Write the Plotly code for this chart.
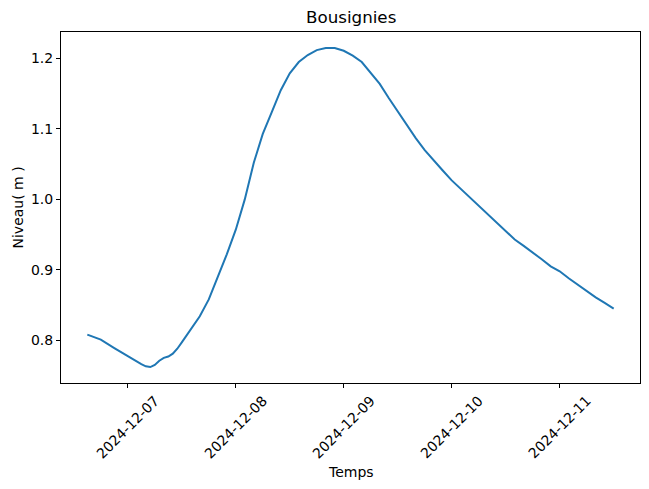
import plotly.graph_objects as go
import pandas as pd

# Hours relative to 2024-12-07 00:00
hours = [-9, -6, -3, 0, 2, 3, 4, 5, 6, 7, 8, 9, 10, 11, 12, 14, 16, 18, 20, 22, 24,
         26, 28, 30, 32, 34, 36, 38, 40, 42, 44, 46, 48, 50, 52, 54, 56, 58, 60, 62,
         64, 66, 68, 70, 72, 74, 76, 78, 80, 82, 84, 86, 88, 90, 92, 94, 96, 98, 100,
         102, 104, 106, 108]
niveau = [0.808, 0.801, 0.789, 0.777, 0.770, 0.766, 0.763, 0.762, 0.765, 0.771, 0.775,
          0.777, 0.781, 0.788, 0.797, 0.815, 0.834, 0.858, 0.890, 0.922, 0.957,
          1.000, 1.052, 1.093, 1.124, 1.155, 1.179, 1.195, 1.205, 1.212, 1.215, 1.215,
          1.211, 1.204, 1.195, 1.180, 1.164, 1.144, 1.125, 1.106, 1.087, 1.070, 1.055,
          1.041, 1.027, 1.015, 1.002, 0.991, 0.978, 0.967, 0.954, 0.943, 0.934, 0.925,
          0.915, 0.905, 0.898, 0.888, 0.879, 0.869, 0.861, 0.853, 0.845]
tick_dates = ["2024-12-07", "2024-12-08", "2024-12-09", "2024-12-10", "2024-12-11"]
y_ticks = [0.8, 0.9, 1.0, 1.1, 1.2]

base = pd.Timestamp("2024-12-07")
temps = [base + pd.Timedelta(hours=h) for h in hours]

# matplotlib-like 5% margins
tmin, tmax = min(temps), max(temps)
tpad = (tmax - tmin) * 0.05
ymin, ymax = min(niveau), max(niveau)
ypad = (ymax - ymin) * 0.05

FONT = "DejaVu Sans"
fig = go.Figure()
fig.add_trace(go.Scatter(x=temps, y=niveau, mode="lines",
                         line=dict(color="#1f77b4", width=2)))

fig.update_layout(
    width=641, height=481,
    margin=dict(l=53, r=9, t=24, b=106),
    plot_bgcolor="white", paper_bgcolor="white",
    showlegend=False,
    font=dict(family=FONT, size=14, color="black"),
    xaxis=dict(range=[tmin - tpad, tmax + tpad], showgrid=False, zeroline=False,
               showline=True, mirror=True, linecolor="black", linewidth=1,
               ticks="outside", ticklen=4, tickcolor="black", tickwidth=1,
               tickvals=[pd.Timestamp(d) for d in tick_dates], showticklabels=False),
    yaxis=dict(range=[ymin - ypad, ymax + ypad], showgrid=False, zeroline=False,
               showline=True, mirror=True, linecolor="black", linewidth=1,
               ticks="outside", ticklen=4, tickcolor="black", tickwidth=1,
               tickvals=y_ticks, ticktext=[f"{v:.1f}" for v in y_ticks],
               tickfont=dict(size=14)),
)

for d in tick_dates:
    fig.add_annotation(x=pd.Timestamp(d), y=0, xref="x", yref="paper",
                       text=d, textangle=-45, showarrow=False,
                       xanchor="center", yanchor="top", yshift=-7,
                       font=dict(size=14, family=FONT))

fig.add_annotation(x=0.5, y=0, xref="paper", yref="paper", text="Temps",
                   showarrow=False, xanchor="center", yanchor="middle",
                   yshift=-89, font=dict(size=14, family=FONT))
fig.add_annotation(x=0, y=0.5, xref="paper", yref="paper", text="Niveau( m )",
                   textangle=-90, showarrow=False, xanchor="center", yanchor="middle",
                   xshift=-44, font=dict(size=14, family=FONT))
fig.add_annotation(x=0.5, y=1, xref="paper", yref="paper", text="Bousignies",
                   showarrow=False, xanchor="center", yanchor="bottom",
                   yshift=3, font=dict(size=16.7, family=FONT))

fig.write_html("out.html")
